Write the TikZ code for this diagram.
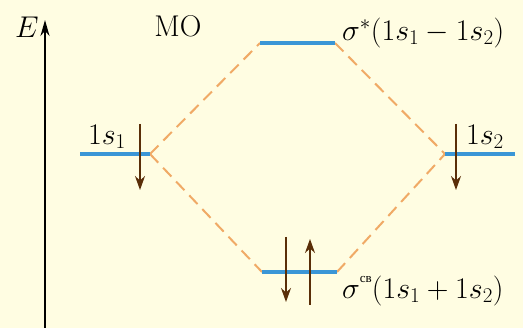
\RequirePackage{fix-cm}
\documentclass[tikz,border=0pt]{standalone}
\usepackage{fontspec}
\newfontfamily\cyrfont{Liberation Serif}
\usetikzlibrary{arrows.meta}
\definecolor{bg}{HTML}{FFFDE2}
\definecolor{lvl}{HTML}{3A96D6}
\definecolor{dashc}{HTML}{F0AA66}
\definecolor{el}{HTML}{5A2E08}
\tikzset{
  levelline/.style={draw=lvl, line width=4pt},
  conn/.style={draw=dashc, line width=2pt, dash pattern=on 12pt off 7pt},
  elec/.style={draw=el, line width=1.6pt, -{Stealth[length=14pt,width=10pt]}},
  lbl/.style={font=\fontsize{30}{34}\selectfont, inner sep=0pt},
}
\begin{document}
\begin{tikzpicture}[x=1pt,y=-1pt]
\fill[bg] (0,0) rectangle (523,328);
\useasboundingbox (0,0) rectangle (523,328);
% axis
\coordinate (ab) at (45,328);
\coordinate (at) at (45,20);
\draw[line width=2pt, -{Stealth[length=16pt,width=9pt]}] (ab) -- (at);
\node[lbl] (E) at (27,27) {$E$};
\node[lbl] (MO) at (178,26) {MO};
% level ends
\coordinate (a1l) at (80,154);
\coordinate (a1r) at (150,154);
\coordinate (sal) at (260,43);
\coordinate (sar) at (335,43);
\coordinate (sbl) at (262,272);
\coordinate (sbr) at (337,272);
\coordinate (a2l) at (445,154);
\coordinate (a2r) at (515,154);
% dashed correlation lines
\draw[conn] (a1r) -- (sal);
\draw[conn] (a1r) -- (sbl);
\draw[conn] (sar) -- (a2l);
\draw[conn] (sbr) -- (a2l);
% levels
\draw[levelline] (a1l) -- (a1r);
\draw[levelline] (sal) -- (sar);
\draw[levelline] (sbl) -- (sbr);
\draw[levelline] (a2l) -- (a2r);
% electrons
\coordinate (e1t) at (140,124);
\coordinate (e1b) at (140,190);
\coordinate (e2t) at (456,124);
\coordinate (e2b) at (456,190);
\coordinate (e3t) at (286,237);
\coordinate (e3b) at (286,302);
\coordinate (e4t) at (310,239);
\coordinate (e4b) at (310,305);
\draw[elec] (e1t) -- (e1b);
\draw[elec] (e2t) -- (e2b);
\draw[elec] (e3t) -- (e3b);
\draw[elec] (e4b) -- (e4t);
% labels
\node[lbl] (l1) at (107,137) {$1s_1$};
\node[lbl] (l2) at (485,137) {$1s_2$};
\node[lbl, anchor=west] (ls) at (342,33) {$\sigma^*(1s_1-1s_2)$};
\node[lbl, anchor=west] (lb) at (342,291) {$\sigma$\raisebox{16pt}{\cyrfont\fontsize{13}{13}\selectfont св}$(1s_1+1s_2)$};
\end{tikzpicture}
\end{document}
